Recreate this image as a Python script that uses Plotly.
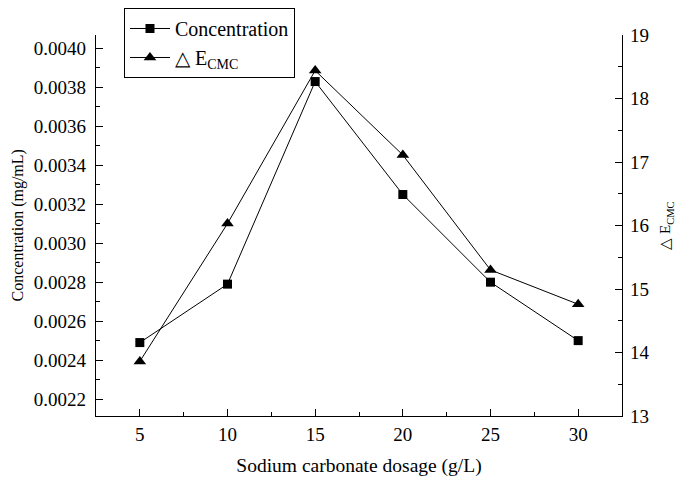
import plotly.graph_objects as go

dosage = [5, 10, 15, 20, 25, 30]
concentration = [0.00249, 0.00279, 0.00383, 0.00325, 0.00280, 0.00250]
delta_e_cmc = [13.86, 16.03, 18.44, 17.11, 15.30, 14.76]

FONT = "Liberation Serif"

fig = go.Figure()
fig.add_trace(go.Scatter(
    x=dosage, y=concentration, name="Concentration", mode="lines+markers",
    line=dict(color="black", width=1),
    marker=dict(symbol="square", size=9, color="black"),
    yaxis="y"))
fig.add_trace(go.Scatter(
    x=dosage, y=delta_e_cmc, name="\u25b3 E<sub>CMC</sub>", mode="lines+markers",
    line=dict(color="black", width=1),
    marker=dict(symbol="triangle-up", size=11, color="black"),
    yaxis="y2"))

axis_common = dict(
    showline=True, linecolor="black", linewidth=1.3, mirror=False,
    ticks="inside", ticklen=7, tickwidth=1.2, tickcolor="black",
    showgrid=False, zeroline=False, automargin=False,
    tickfont=dict(family=FONT, size=19, color="black"),
)

fig.update_layout(
    width=685, height=482,
    margin=dict(l=88, r=71, t=27, b=74, autoexpand=False),
    paper_bgcolor="white", plot_bgcolor="white",
    font=dict(family=FONT, size=17, color="black"),
    xaxis=dict(
        range=[2.5, 32.5], tickvals=dosage, ticklabelstandoff=1,
        minor=dict(ticks="inside", ticklen=4, dtick=2.5, tick0=2.5, tickcolor="black", showgrid=False),
        title=dict(text="Sodium carbonate dosage (g/L)", font=dict(family=FONT, size=19.5), standoff=14),
        **axis_common),
    yaxis=dict(
        range=[0.002113, 0.004069], tick0=0.0022, dtick=0.0002, tickformat=".4f",
        ticklabelstandoff=5,
        minor=dict(ticks="inside", ticklen=4, dtick=0.0001, tick0=0.0022, tickcolor="black", showgrid=False),
        **axis_common),
    yaxis2=dict(
        range=[13, 19], dtick=1, overlaying="y", side="right", ticklabelstandoff=3,
        minor=dict(ticks="inside", ticklen=4, dtick=0.5, tickcolor="black", showgrid=False),
        title=dict(text="\u25b3 E<sub>CMC</sub>", font=dict(family=FONT, size=15), standoff=11),
        **axis_common),
    legend=dict(
        x=0.0532, y=1.0709, xanchor="left", yanchor="top",
        bordercolor="black", borderwidth=1, bgcolor="white",
        font=dict(family=FONT, size=20, color="black"),
        tracegroupgap=0, itemwidth=40,
    ),
    annotations=[dict(
        text="Concentration (mg/mL)", textangle=-90,
        xref="paper", yref="paper", x=-0.1483, y=0.5,
        xanchor="center", yanchor="middle", showarrow=False,
        font=dict(family=FONT, size=16, color="black"),
    )],
    showlegend=True,
)

fig.write_html("out.html")
